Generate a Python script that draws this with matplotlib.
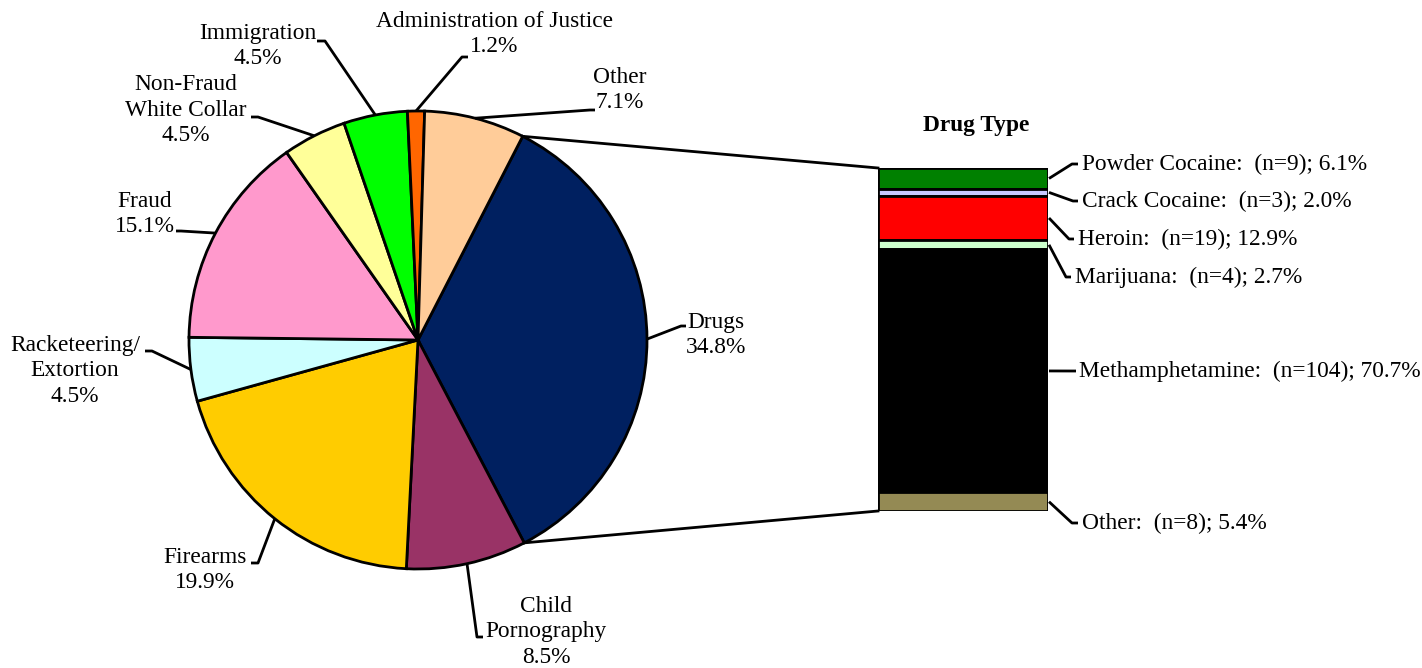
import numpy as np
import matplotlib.pyplot as plt

plt.rcParams['font.family'] = ['Liberation Serif', 'DejaVu Serif']

# offense types (pie)
offenses = ["Drugs", "Child\nPornography", "Firearms", "Racketeering/\nExtortion", "Fraud",
            "Non-Fraud\nWhite Collar", "Immigration", "Administration of Justice", "Other"]
offense_pct = [34.8, 8.5, 19.9, 4.5, 15.1, 4.5, 4.5, 1.2, 7.1]
offense_colors = ["#002060", "#993366", "#FFCC00", "#CCFFFF", "#FF99CC",
                  "#FFFF99", "#00FF00", "#FF6600", "#FFCC99"]

# drug types (stacked bar, top to bottom)
drugs = ["Powder Cocaine", "Crack Cocaine", "Heroin", "Marijuana", "Methamphetamine", "Other"]
drug_n = [9, 3, 19, 4, 104, 8]
drug_pct = [6.1, 2.0, 12.9, 2.7, 70.7, 5.4]
drug_colors = ["#008000", "#C8C8FF", "#FF0000", "#CCFFCC", "#000000", "#948A54"]

W, H = 1422, 668
fig = plt.figure(figsize=(W / 100, H / 100), dpi=100)
ax = fig.add_axes([0, 0, 1, 1])

def Y(y):
    return H - y

cx, cy, r = 418, Y(340), 229
start = 62.8
wedges, _ = ax.pie(offense_pct, colors=offense_colors, startangle=start, counterclock=False,
                   center=(cx, cy), radius=r, frame=True,
                   wedgeprops=dict(edgecolor='black', linewidth=2.0))
ax.set_xlim(0, W)
ax.set_ylim(0, H)
ax.set_aspect('equal')
ax.axis('off')

FS = 16.8
LW = 2.0
# label layout: text center, elbow, end of leader (pixel coords from top)
pie_layout = [
    ((716, 335), (681, 326), (686, 326)),
    ((546, 632), (477, 637), (483, 637)),
    ((205, 570), (258, 563), (251, 563)),
    ((75, 371), (152, 351), (145, 351)),
    ((145, 214), (181, 231), (176, 231)),
    ((186, 110), (258, 117), (251, 117)),
    ((258, 46), (325, 41), (317, 41)),
    ((494, 34), (462, 57), (468, 57)),
    ((620, 90), (590, 110), (595, 110)),
]
for w, name, pct, (tc, el, en) in zip(wedges, offenses, offense_pct, pie_layout):
    mid = np.deg2rad((w.theta1 + w.theta2) / 2)
    sx, sy = cx + r * np.cos(mid), cy + r * np.sin(mid)
    ax.plot([sx, el[0], en[0]], [sy, Y(el[1]), Y(en[1])], color='black', lw=LW,
            solid_capstyle='butt', zorder=3)
    ax.text(tc[0], Y(tc[1]), f"{name}\n{pct}%", ha='center', va='center', fontsize=FS,
            linespacing=1.3)

# stacked bar
bl, bt, bw, bb = 878, 168, 170, 511
axb = fig.add_axes([bl / W, (H - bb) / H, bw / W, (bb - bt) / H])
total = sum(drug_pct)
bottoms = total - np.cumsum(drug_pct)
axb.bar(0, drug_pct, bottom=bottoms, width=1, color=drug_colors, edgecolor='black', linewidth=2.0)
axb.set_xlim(-0.5, 0.5)
axb.set_ylim(0, total)
axb.axis('off')

to_main = lambda p: ax.transData.inverted().transform(axb.transData.transform(p))

# connector lines from Drugs wedge to bar
w0 = wedges[0]
for ang, corner in [(w0.theta2, (-0.5, total)), (w0.theta1, (-0.5, 0))]:
    a = np.deg2rad(ang)
    px, py = to_main(corner)
    ax.plot([cx + r * np.cos(a), px], [cy + r * np.sin(a), py], color='black', lw=LW, zorder=3)

ax.text(976, Y(126), "Drug Type", ha='center', va='center', fontsize=FS, fontweight='bold')

drug_layout = [
    ((1072, 164), (1078, 164), 1082),
    ((1073, 201), (1078, 201), 1082),
    ((1069, 239), (1074, 239), 1078),
    ((1066, 277), (1071, 277), 1075),
    ((1070, 371), (1076, 371), 1079),
    ((1072, 523), (1078, 523), 1082),
]
for name, n, pct, b, (el, en, tx) in zip(drugs, drug_n, drug_pct, bottoms, drug_layout):
    sx, sy = to_main((0.5, b + pct / 2))
    ax.plot([sx + 1, el[0], en[0]], [sy, Y(el[1]), Y(en[1])], color='black', lw=LW,
            solid_capstyle='butt', zorder=3)
    ax.text(tx, Y(en[1]), f"{name}:  (n={n}); {pct}%", ha='left', va='center', fontsize=FS)

fig.savefig("out.png", dpi=100)
